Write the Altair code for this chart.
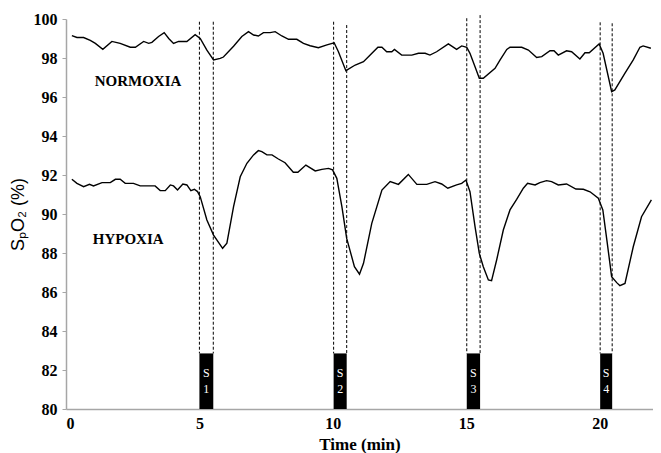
import altair as alt
import pandas as pd

# Normoxia trace (time in min, SpO2 in %)
norm_t = [0.22, 0.41, 0.66, 0.91, 1.10, 1.38, 1.72, 2.03, 2.41, 2.60, 2.91, 3.10, 3.22, 3.47, 3.68,
          3.85, 4.03, 4.22, 4.53, 4.84, 5.03, 5.28, 5.53, 5.78, 5.90, 6.28, 6.59, 6.84, 7.03, 7.21,
          7.40, 7.65, 7.84, 8.09, 8.34, 8.65, 8.90, 9.15, 9.46, 9.78, 10.05, 10.21, 10.49, 10.84,
          11.15, 11.40, 11.69, 11.84, 12.02, 12.21, 12.31, 12.58, 12.96, 13.21, 13.46, 13.64, 13.89,
          14.33, 14.64, 14.83, 15.02, 15.14, 15.33, 15.49, 15.64, 16.08, 16.27, 16.52, 16.64, 17.08,
          17.33, 17.64, 17.83, 18.14, 18.29, 18.45, 18.76, 18.95, 19.26, 19.45, 19.61, 19.98, 20.13,
          20.45, 20.57, 20.95, 21.26, 21.51, 21.63, 21.92]
norm_v = [99.15, 99.05, 99.05, 98.90, 98.75, 98.45, 98.85, 98.75, 98.55, 98.55, 98.85, 98.75, 98.80,
          99.10, 99.30, 99.00, 98.75, 98.85, 98.85, 99.20, 99.00, 98.40, 97.90, 97.98, 98.05, 98.60,
          99.10, 99.35, 99.18, 99.13, 99.30, 99.30, 99.35, 99.13, 98.96, 98.96, 98.75, 98.63, 98.53,
          98.67, 98.78, 98.32, 97.35, 97.64, 97.81, 98.15, 98.55, 98.55, 98.32, 98.32, 98.44, 98.15,
          98.15, 98.24, 98.24, 98.15, 98.32, 98.72, 98.44, 98.62, 98.55, 98.24, 97.55, 96.96, 96.96,
          97.47, 97.90, 98.44, 98.55, 98.55, 98.41, 98.03, 98.07, 98.37, 98.37, 98.15, 98.37, 98.32,
          97.95, 98.27, 98.27, 98.72, 98.24, 96.27, 96.36, 97.22, 97.90, 98.55, 98.62, 98.50]

# Hypoxia trace
hyp_t = [0.22, 0.41, 0.66, 0.88, 1.03, 1.35, 1.66, 1.85, 2.03, 2.22, 2.53, 2.78, 3.34, 3.53, 3.72,
         3.91, 4.03, 4.18, 4.38, 4.53, 4.68, 4.81, 4.93, 5.03, 5.28, 5.53, 5.87, 6.03, 6.28, 6.53,
         6.78, 7.03, 7.21, 7.34, 7.53, 7.72, 7.96, 8.21, 8.52, 8.69, 8.99, 9.34, 9.59, 9.84, 9.99,
         10.15, 10.34, 10.52, 10.81, 11.00, 11.15, 11.46, 11.84, 12.15, 12.46, 12.83, 13.15, 13.52,
         13.83, 14.08, 14.31, 14.64, 14.83, 14.99, 15.14, 15.33, 15.49, 15.64, 15.83, 15.95, 16.14,
         16.39, 16.64, 16.89, 17.14, 17.30, 17.58, 17.76, 18.01, 18.20, 18.45, 18.76, 19.11, 19.39,
         19.64, 19.95, 20.12, 20.27, 20.45, 20.64, 20.76, 20.95, 21.26, 21.57, 21.94]
hyp_v = [91.78, 91.57, 91.40, 91.52, 91.44, 91.61, 91.61, 91.78, 91.78, 91.57, 91.57, 91.44, 91.44,
         91.20, 91.20, 91.49, 91.44, 91.23, 91.54, 91.49, 91.20, 91.27, 91.15, 90.89, 89.69, 88.92,
         88.24, 88.50, 90.38, 91.91, 92.60, 93.03, 93.25, 93.20, 93.03, 93.03, 92.82, 92.63, 92.14,
         92.14, 92.51, 92.21, 92.29, 92.34, 92.26, 91.83, 90.38, 88.75, 87.30, 86.91, 87.47, 89.52,
         91.23, 91.66, 91.52, 92.03, 91.52, 91.52, 91.66, 91.54, 91.32, 91.49, 91.57, 91.74, 91.14,
         89.35, 87.98, 87.30, 86.62, 86.58, 87.64, 89.18, 90.21, 90.75, 91.32, 91.57, 91.49, 91.61,
         91.71, 91.66, 91.49, 91.54, 91.28, 91.27, 91.14, 90.81, 90.21, 88.67, 86.79, 86.48, 86.32,
         86.44, 88.32, 89.86, 90.72]

# Stimulus periods
stim_start = [5.0, 10.03, 15.02, 20.02]
stim_end = [5.52, 10.52, 15.52, 20.47]
stim_num = ["1", "2", "3", "4"]
stim_box_top = 82.85
dash_top_start = [99.86, 99.86, 100.04, 99.83]
dash_top_end = [99.86, 99.69, 100.20, 99.78]

x_ticks = [0, 5, 10, 15, 20]
y_ticks = [80, 82, 84, 86, 88, 90, 92, 94, 96, 98, 100]

condition_labels = ["NORMOXIA", "HYPOXIA"]
condition_x = [2.7, 2.33]
condition_y = [96.8, 88.7]

SERIF = "Liberation Serif"

lines_df = pd.concat([
    pd.DataFrame({"t": norm_t, "v": norm_v, "cond": "Normoxia"}),
    pd.DataFrame({"t": hyp_t, "v": hyp_v, "cond": "Hypoxia"}),
])

# all layers use the same field names t / v so that the axes merge cleanly
dash_df = pd.DataFrame({"t": stim_start + stim_end, "v": dash_top_start + dash_top_end})
box_df = pd.DataFrame({"t": stim_start, "t2": stim_end, "num": stim_num})
box_df["v"] = 80
box_df["v2"] = stim_box_top
mid = (box_df["t"] + box_df["t2"]) / 2
s_df = pd.DataFrame({"t": mid, "v": 81.85, "txt": "S"})
n_df = pd.DataFrame({"t": mid, "v": 81.05, "txt": stim_num})
lab_df = pd.DataFrame({"txt": condition_labels, "t": condition_x, "v": condition_y})

xscale = alt.Scale(domain=[0, 22], nice=False, zero=False)
yscale = alt.Scale(domain=[80, 100], nice=False, zero=False)

xaxis = alt.Axis(values=x_ticks, title="Time (min)", ticks=False, titlePadding=5, labelPadding=6,
                 labelOverlap=False, grid=False,
                 labelFont=SERIF, labelFontWeight="bold", labelFontSize=16, labelColor="black",
                 titleFont=SERIF, titleFontWeight="bold", titleFontSize=17, titleColor="black",
                 domainColor="#a6a6a6", domainWidth=1.5)
yaxis = alt.Axis(values=y_ticks, title="SₚO₂ (%)", tickSize=4, labelPadding=5,
                 labelOverlap=False, grid=False, tickColor="#a6a6a6",
                 labelFont=SERIF, labelFontWeight="bold", labelFontSize=16, labelColor="black",
                 titleFont="Liberation Sans", titleFontWeight="normal", titleColor="black",
                 titleFontSize=18, titlePadding=6, domainColor="#a6a6a6", domainWidth=1.5)

X = alt.X("t:Q", scale=xscale, axis=xaxis)
Y = alt.Y("v:Q", scale=yscale, axis=yaxis)

lines = alt.Chart(lines_df).mark_line(color="black", strokeWidth=1.4).encode(
    x=X, y=Y, detail="cond:N",
)

dashes = alt.Chart(dash_df).mark_rule(color="black", strokeWidth=1, strokeDash=[3, 2], clip=False).encode(
    x=X, y=Y, y2=alt.datum(stim_box_top),
)

boxes = alt.Chart(box_df).mark_rect(color="black").encode(
    x=X, x2="t2:Q", y=Y, y2="v2:Q",
)

box_s = alt.Chart(s_df).mark_text(color="white", font=SERIF, fontSize=12).encode(
    x=X, y=Y, text="txt:N",
)
box_n = alt.Chart(n_df).mark_text(color="white", font=SERIF, fontSize=12).encode(
    x=X, y=Y, text="txt:N",
)

labels = alt.Chart(lab_df).mark_text(color="black", font=SERIF, fontWeight="bold",
                                     fontSize=15).encode(
    x=X, y=Y, text="txt:N",
)

chart = alt.layer(lines, dashes, boxes, box_s, box_n, labels).properties(
    width=587, height=390,
    autosize=alt.AutoSizeParams(type="none"),
    padding={"left": 58, "top": 11, "right": 0, "bottom": 44},
).configure_view(strokeWidth=0).configure_axis(labelOverlap=False)

chart.save("out.html", embed_options={"renderer": "svg", "actions": False})
